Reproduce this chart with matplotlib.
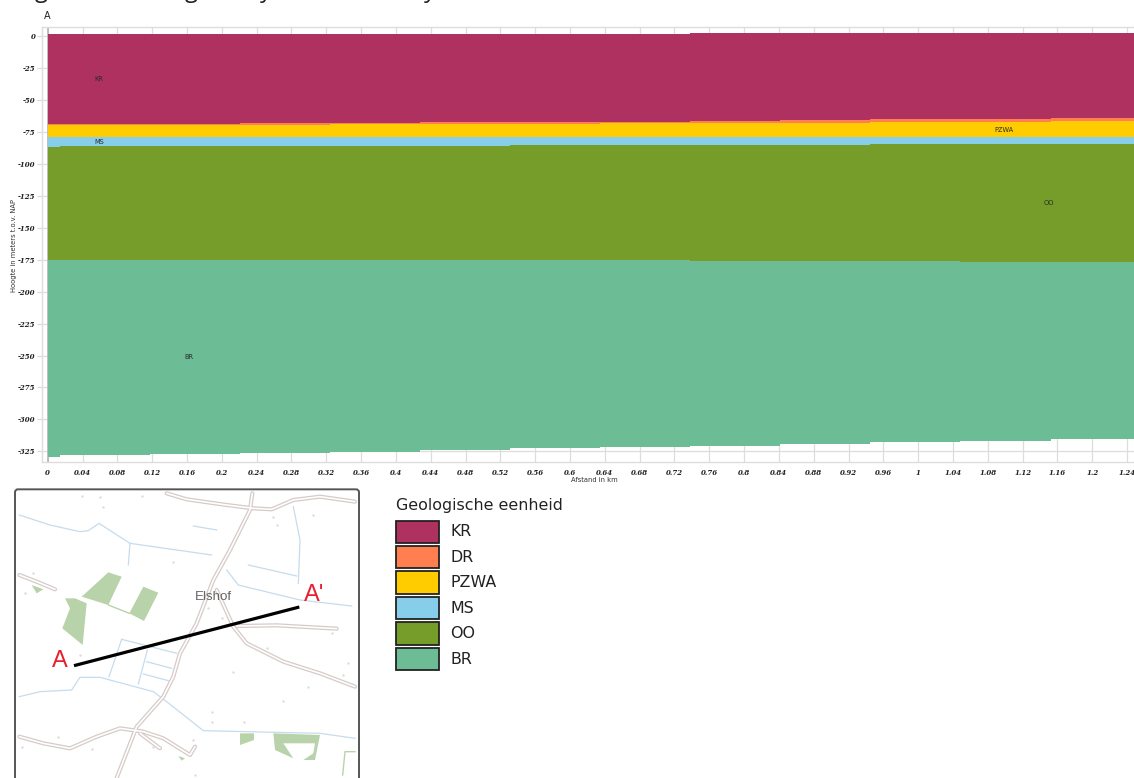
import matplotlib
matplotlib.use('Agg')
import matplotlib.pyplot as plt
from matplotlib.patches import FancyBboxPatch, Polygon, Rectangle

W, H = 1134, 778

# geologische eenheden
units = ['KR', 'DR', 'PZWA', 'MS', 'OO', 'BR']
unit_colors = ['#AF3160', '#FF7F50', '#FFCC00', '#87CEEB', '#769C29', '#6CBC96']

# afstand in km: randen van de kolommen van het profiel
col_edges = [0, 0.014, 0.1175, 0.221, 0.324, 0.428, 0.531, 0.635, 0.738, 0.841, 0.945, 1.048, 1.152, 1.25]

# bovenkant van elke laag + onderkant BR, in meters t.o.v. NAP
surface = [1.6, 1.6, 1.6, 1.6, 1.7, 1.7, 1.9, 1.9, 2.1, 2.3, 2.1, 2.3, 2.5]
kr_bottom = [-69.1, -68.9, -68.6, -68.3, -67.9, -67.6, -67.2, -66.9, -66.5, -65.4, -65.0, -65.0, -64.2]
dr_bottom = [-69.9, -69.6, -69.6, -69.3, -69.1, -68.9, -68.5, -68.1, -68.1, -67.7, -67.4, -67.4, -66.5]
pzwa_bottom = [-79.1, -79.1, -79.0, -79.0, -79.0, -79.0, -79.0, -79.0, -79.0, -79.0, -79.0, -79.0, -79.0]
ms_bottom = [-86.6, -86.1, -86.1, -85.7, -85.7, -85.7, -85.3, -85.3, -85.1, -84.9, -84.8, -84.5, -84.3]
oo_bottom = [-175.3, -175.3, -175.2, -175.2, -175.3, -175.4, -175.5, -175.6, -175.8, -176.0, -176.3, -176.6, -176.8]
br_bottom = [-329.2, -327.9, -326.8, -326.0, -325.3, -324.0, -322.6, -321.4, -320.4, -319.0, -317.9, -316.7, -315.3]

# labels in het profiel: naam, afstand, hoogte
profile_labels = [('KR', 0.059, -34), ('MS', 0.059, -83), ('PZWA', 1.099, -73.5),
                  ('OO', 1.150, -130.7), ('BR', 0.162, -251.2)]

x_ticks = [i * 0.04 for i in range(32)]
y_ticks = [-25 * i for i in range(14)]

# kaartje: coordinaten in kaart-eenheden (1/3 pixel)
roads = [
    [(500, 280), (560, 298), (680, 315), (760, 325), (815, 328), (880, 300), (960, 290), (1065, 305)],
    [(757, 280), (750, 330), (690, 450), (640, 540), (590, 670), (540, 760), (520, 830), (490, 890), (410, 980), (350, 1134)],
    [(650, 570), (700, 680), (740, 730), (850, 785), (960, 820), (1065, 860)],
    [(710, 678), (830, 676), (1010, 686)],
    [(58, 525), (110, 545), (165, 568)],
    [(58, 1010), (130, 1030), (210, 1045), (290, 1010), (360, 985), (430, 995), (490, 1015), (570, 1065), (585, 1040)],
    [(420, 1000), (480, 1045)],
]
water = [
    [(58, 345), (150, 375), (240, 395), (265, 392), (297, 370), (390, 430), (635, 465)],
    [(390, 430), (385, 495)],
    [(580, 378), (650, 390)],
    [(745, 495), (890, 528)],
    [(880, 320), (900, 420), (895, 550)],
    [(680, 510), (715, 555), (900, 600), (1055, 618)],
    [(58, 890), (120, 875), (215, 870), (240, 832), (300, 832), (460, 875), (500, 905), (610, 992), (960, 1000), (1065, 1015)],
    [(365, 718), (530, 760)],
    [(365, 718), (327, 830)],
    [(442, 750), (415, 852)],
    [(440, 785), (515, 805)],
    [(430, 822), (505, 842)],
]
fields = [
    [(325, 517), (365, 530), (325, 615), (245, 590)],
    [(430, 560), (475, 578), (432, 663), (388, 640)],
    [(195, 595), (225, 595), (260, 610), (248, 735), (187, 685), (210, 625)],
    [(720, 1000), (762, 1000), (762, 1020), (720, 1035)],
    [(820, 1000), (960, 1005), (945, 1080), (910, 1080), (940, 1060), (945, 1030), (850, 1030), (880, 1075), (825, 1050)],
    [(95, 555), (130, 568), (110, 580)],
    [(535, 1068), (555, 1075), (545, 1082)],
]
field_lines = [
    [(325, 615), (388, 640)],
    [(1065, 1055), (1035, 1055), (1028, 1125)],
]
specks = [(245, 287), (300, 290), (425, 288), (310, 320), (820, 350), (830, 375), (940, 345), (520, 485),
          (100, 520), (75, 580), (240, 765), (800, 745), (700, 815), (1045, 790), (1030, 825), (925, 860),
          (850, 903), (635, 935), (635, 965), (733, 967), (175, 1010), (275, 1048), (580, 1020), (460, 1040),
          (625, 625), (665, 655), (995, 700), (65, 1040), (585, 1125)]
section_x = [222, 898]
section_y = [797, 621]

plt.rcParams['font.family'] = 'DejaVu Sans'
fig = plt.figure(figsize=(W / 100, H / 100), dpi=100)

# --- profiel ---
ax = fig.add_axes([42 / W, 1 - 462.4 / H, (W - 42) / W, (462.4 - 27) / H])
tops = [surface, kr_bottom, dr_bottom, pzwa_bottom, ms_bottom, oo_bottom]
bottoms = [kr_bottom, dr_bottom, pzwa_bottom, ms_bottom, oo_bottom, br_bottom]
for top, bottom, color in zip(tops, bottoms, unit_colors):
    ax.stairs(top, col_edges, baseline=bottom, fill=True, color=color, zorder=3, linewidth=0)

ax.set_xlim(-0.0066, 1.2479)
ax.set_ylim(-333.6, 7.04)
ax.set_xticks(x_ticks)
ax.set_xticklabels([f'{t:.2f}'.rstrip('0').rstrip('.') for t in x_ticks])
ax.set_yticks(y_ticks)
ax.set_yticklabels([str(t) for t in y_ticks])
for lab in ax.get_xticklabels() + ax.get_yticklabels():
    lab.set_family('DejaVu Serif')
    lab.set_style('italic')
    lab.set_weight('bold')
    lab.set_fontsize(5)
    lab.set_color('#222222')
ax.tick_params(axis='both', length=3.6, width=0.8, color='#d8d8d8', pad=1)
ax.tick_params(axis='x', length=0, pad=4.8)
ax.grid(True, color='#dddddd', linewidth=0.9, zorder=0)
ax.set_axisbelow(True)
ax.axvline(0, color='#b5b5b5', linewidth=1.2, zorder=2)
for name, spine in ax.spines.items():
    spine.set_color('#dddddd')
    spine.set_linewidth(1.0)
ax.spines['right'].set_visible(False)

for name, x, y in profile_labels:
    ax.text(x, y, name, fontsize=4.8, color='#2a2a2a', ha='center', va='center', zorder=5)

fig.text(14 / W, 1 - 245 / H, 'Hoogte in meters t.o.v. NAP', rotation=90, fontsize=4.9,
         color='#333333', ha='center', va='center')
fig.text(594 / W, 1 - 480.5 / H, 'Afstand in km', fontsize=4.9, color='#333333', ha='center', va='center')
fig.text(47 / W, 1 - 16 / H, 'A', fontsize=7, color='#222222', ha='center', va='center')

# afgesneden kop van de pagina: alleen de staarten van de letters zijn zichtbaar
for letter, px in [('g', 41), ('g', 191), ('y', 266), ('y', 430)]:
    fig.text(px / W, 1 + 3 / H, letter, fontsize=17, family='Open Sans', color='#222222',
             ha='center', va='baseline')

# --- kaartje ---
mp = fig.add_axes([0, 0, 400 / W, 378 / H])
mp.set_xlim(0, 1200)
mp.set_ylim(1134, 0)
mp.axis('off')
mp.add_patch(FancyBboxPatch((45, 268), 1032, 900, boxstyle='round,pad=0,rounding_size=9',
                            facecolor='white', edgecolor='#555555', linewidth=1.4, zorder=1, clip_on=False))
for pts in water:
    xs, ys = zip(*pts)
    mp.plot(xs, ys, color='#c5dcee', linewidth=0.9, zorder=2)
for pts in fields:
    mp.add_patch(Polygon(pts, closed=True, facecolor='#b8d3aa', edgecolor='none', zorder=2))
for pts in field_lines:
    xs, ys = zip(*pts)
    mp.plot(xs, ys, color='#b8d3aa', linewidth=1.0, zorder=2)
for pts in roads:
    xs, ys = zip(*pts)
    mp.plot(xs, ys, color='#d6cbc8', linewidth=3.0, zorder=3, solid_capstyle='round', solid_joinstyle='round')
    mp.plot(xs, ys, color='white', linewidth=1.2, zorder=4, solid_capstyle='round', solid_joinstyle='round')
sx, sy = zip(*specks)
mp.scatter(sx, sy, s=3, marker='o', color='#dcdcdc', linewidths=0, zorder=3)
mp.plot(section_x, section_y, color='black', linewidth=2.3, zorder=6, solid_capstyle='butt')
mp.text(640, 590, 'Elshof', fontsize=9.6, color='#666666', family='Liberation Sans', ha='center', va='center', zorder=7)
mp.text(178, 783, 'A', fontsize=17, color='#e8202e', family='Liberation Sans', ha='center', va='center', zorder=7)
mp.text(942, 585, "A'", fontsize=17, color='#e8202e', family='Liberation Sans', ha='center', va='center', zorder=7)

# --- legenda ---
lg = fig.add_axes([0, 0, 1, 1], facecolor='none')
lg.set_xlim(0, W)
lg.set_ylim(H, 0)
lg.axis('off')
lg.text(396, 505.5, 'Geologische eenheid', fontsize=11.4, color='#222222', ha='left', va='center')
for i, (name, color) in enumerate(zip(units, unit_colors)):
    y0 = 520.5 + i * 25.4
    lg.add_patch(Rectangle((396, y0), 42.5, 22.5, facecolor=color, edgecolor='#222222', linewidth=1.3))
    lg.text(450, y0 + 11.5, name, fontsize=11.4, color='#222222', ha='left', va='center')

fig.savefig('out.png', dpi=100)
